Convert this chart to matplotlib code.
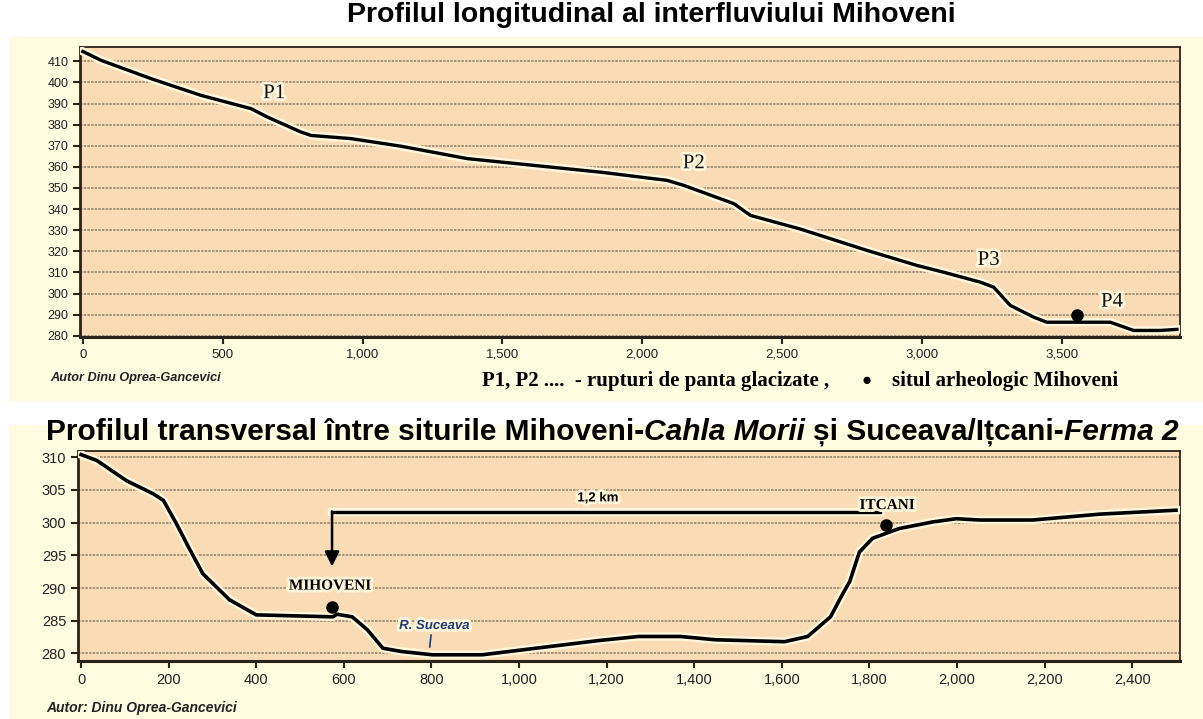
import matplotlib
matplotlib.use("Agg")
import matplotlib.pyplot as plt
import matplotlib.patheffects as pe
from matplotlib.patches import Rectangle

# ---- longitudinal profile (top) ----
long_x = [0, 65, 244, 422, 601, 660, 780, 816, 958, 1137, 1375, 1613, 1851, 2089, 2149,
          2327, 2387, 2566, 2804, 2982, 3077, 3208, 3256, 3315, 3399, 3446, 3673, 3756,
          3851, 3911]
long_y = [414.7, 410.5, 401.8, 393.9, 387.6, 383.6, 376.5, 374.9, 373.4, 369.8, 363.9,
          360.7, 357.5, 353.6, 351.2, 342.6, 337.0, 330.5, 320.4, 313.3, 310.1, 305.4,
          303.0, 294.4, 288.8, 286.4, 286.4, 282.5, 282.5, 283.0]
long_labels = ["P1", "P2", "P3", "P4"]
long_label_x = [684, 2184, 3238, 3679]
long_label_y = [394.7, 361.5, 315.7, 295.9]
long_site = (3554, 289.6)
long_yticks = [280, 290, 300, 310, 320, 330, 340, 350, 360, 370, 380, 390, 400, 410]
long_xticks = [0, 500, 1000, 1500, 2000, 2500, 3000, 3500]
long_xticklabels = ["0", "500", "1,000", "1,500", "2,000", "2,500", "3,000", "3,500"]

# ---- transversal profile (bottom) ----
tr_x = [0, 36, 104, 165, 188, 218, 245, 278, 339, 400, 575, 584, 619, 654, 689, 732,
        802, 916, 1038, 1185, 1273, 1368, 1447, 1606, 1659, 1711, 1738, 1755, 1777,
        1807, 1868, 1944, 1998, 2051, 2173, 2326, 2500]
tr_y = [310.4, 309.5, 306.4, 304.4, 303.4, 299.8, 296.3, 292.2, 288.2, 285.9, 285.6,
        286.0, 285.6, 283.6, 280.8, 280.3, 279.8, 279.8, 280.8, 282.0, 282.6, 282.6,
        282.1, 281.8, 282.6, 285.6, 289.0, 291.0, 295.5, 297.6, 299.1, 300.1, 300.6,
        300.4, 300.4, 301.3, 301.9]
tr_yticks = [280, 285, 290, 295, 300, 305, 310]
tr_xticks = [0, 200, 400, 600, 800, 1000, 1200, 1400, 1600, 1800, 2000, 2200, 2400]
tr_xticklabels = ["0", "200", "400", "600", "800", "1,000", "1,200", "1,400", "1,600",
                  "1,800", "2,000", "2,200", "2,400"]
mihoveni_site = (573, 287.1)
itcani_site = (1838, 299.6)
dist_x = [573, 1824]
dist_y = 301.7
arrow_tip_y = 293.3

CREAM = "#fffbe0"
PEACH = "#f9dcb6"
GRID = "#9a876d"
SANS = ["Liberation Sans", "DejaVu Sans"]
SERIF = ["Liberation Serif", "DejaVu Serif"]
halo = [pe.withStroke(linewidth=6, foreground="#fff6dc")]
text_halo = [pe.withStroke(linewidth=4, foreground="#fff6dc")]

W, H = 1203, 719
fig = plt.figure(figsize=(12.03, 7.19), dpi=100, facecolor="white")
fig.patches.append(Rectangle((9 / W, 1 - 400 / H), 1 - 9 / W, 363 / H,
                             transform=fig.transFigure, color=CREAM, zorder=-5))
fig.patches.append(Rectangle((9 / W, 0), 1 - 9 / W, 1 - 425 / H,
                             transform=fig.transFigure, color=CREAM, zorder=-5))


def style_axes(ax, yticks, xticks, xticklabels, ysize, xsize):
    ax.set_facecolor(PEACH)
    ax.set_yticks(yticks)
    ax.set_xticks(xticks)
    ax.set_xticklabels(xticklabels)
    ax.yaxis.grid(True, color=GRID, linestyle=(0, (1.5, 0.7)), lw=1.2)
    ax.set_axisbelow(True)
    for s in ax.spines.values():
        s.set_color("#2b2218")
        s.set_linewidth(1.3)
    ax.spines["left"].set_linewidth(2)
    ax.spines["bottom"].set_linewidth(2.2)
    ax.tick_params(direction="out", length=5, width=1.5, color="#2b2218")
    for lab in ax.get_yticklabels():
        lab.set_fontfamily(SANS)
        lab.set_fontsize(ysize)
        lab.set_color("#222222")
    for lab in ax.get_xticklabels():
        lab.set_fontfamily(SANS)
        lab.set_fontsize(xsize)
        lab.set_color("#222222")


# top chart
ax1 = fig.add_axes([80 / W, 1 - 337 / H, 1100 / W, 290 / H])
ax1.plot(long_x, long_y, color="black", lw=2.4, path_effects=halo, zorder=3)
ax1.plot(*long_site, "o", color="black", ms=8, zorder=4)
for lab, lx, ly in zip(long_labels, long_label_x, long_label_y):
    ax1.text(lx, ly, lab, fontsize=15, family=SERIF, ha="center", va="center",
             color="#111111", path_effects=text_halo, zorder=5)
ax1.set_xlim(-10, 3922)
ax1.set_ylim(279.4, 416.8)
style_axes(ax1, long_yticks, long_xticks, long_xticklabels, 9, 9.5)

fig.text(651 / W, 1 - 15 / H, "Profilul longitudinal al interfluviului Mihoveni",
         fontsize=20.5, fontweight="bold", family=SANS, ha="center", va="center")
fig.text(50 / W, 1 - 378 / H, "Autor Dinu Oprea-Gancevici", fontsize=9.2, fontstyle="italic",
         fontweight="bold", family=SANS, ha="left", va="center", color="#222222")
fig.text(482 / W, 1 - 381 / H, "P1, P2 ....  - rupturi de panta glacizate ,",
         fontsize=15, fontweight="bold", family=SERIF, ha="left", va="center")
fig.text(867 / W, 1 - 381 / H, "\u25cf", fontsize=12, family=SANS, ha="center", va="center")
fig.text(892 / W, 1 - 381 / H, "situl arheologic Mihoveni",
         fontsize=15, fontweight="bold", family=SERIF, ha="left", va="center")

# bottom chart
ax2 = fig.add_axes([78 / W, 1 - 661 / H, 1102 / W, 210 / H])
ax2.plot(tr_x, tr_y, color="black", lw=2.6, path_effects=halo, zorder=3)
ax2.plot(dist_x, [dist_y, dist_y], color="black", lw=2.4, path_effects=halo, zorder=3)
ax2.annotate("", xy=(dist_x[0], arrow_tip_y), xytext=(dist_x[0], dist_y),
             arrowprops=dict(arrowstyle="-|>", color="black", lw=1.8, mutation_scale=22,
                             shrinkA=0, shrinkB=0), zorder=4)
ax2.plot(*mihoveni_site, "o", color="black", ms=8, zorder=4)
ax2.plot(*itcani_site, "o", color="black", ms=8, zorder=4)
ax2.text(mihoveni_site[0] - 5, 290.3, "MIHOVENI", fontsize=11, fontweight="bold",
         family=SERIF, ha="center", va="center", path_effects=text_halo, zorder=5)
ax2.text(itcani_site[0] + 2, 302.6, "ITCANI", fontsize=11, fontweight="bold",
         family=SERIF, ha="center", va="center", path_effects=text_halo, zorder=5)
ax2.text(1180, 303.7, "1,2 km", fontsize=9.5, fontweight="bold", family=SANS,
         ha="center", va="center", path_effects=text_halo, zorder=5)
ax2.text(807, 284.2, "R. Suceava", fontsize=9.5, fontweight="bold", fontstyle="italic",
         family=SANS, color="#1d3e78", ha="center", va="center",
         path_effects=text_halo, zorder=5)
ax2.plot([796, 799], [281.0, 282.8], color="#1d3e78", lw=1.2, zorder=5)
ax2.set_xlim(-7, 2509)
ax2.set_ylim(278.85, 310.95)
style_axes(ax2, tr_yticks, tr_xticks, tr_xticklabels, 10.5, 10.5)

fig.text(46 / W, 1 - 708 / H, "Autor: Dinu Oprea-Gancevici", fontsize=10, fontstyle="italic",
         fontweight="bold", family=SANS, ha="left", va="center", color="#222222")

# second title with italic parts
runs = [("Profilul transversal între siturile Mihoveni-", "normal", False),
        ("Cahla Morii", "italic", False),
        ("și Suceava/Ițcani-", "normal", True),
        ("Ferma 2", "italic", False)]
renderer = fig.canvas.get_renderer()
size = 21.5
probe1 = fig.text(0, 0, "x x", fontsize=size, fontweight="bold", family=SANS)
probe2 = fig.text(0, 0, "xx", fontsize=size, fontweight="bold", family=SANS)
space = probe1.get_window_extent(renderer).width - probe2.get_window_extent(renderer).width
probe1.remove()
probe2.remove()
pieces = []
total = 0
for txt, st, gap in runs:
    t = fig.text(0, 1 - 440 / H, txt, fontsize=size, fontweight="bold", fontstyle=st,
                 family=SANS, ha="left", va="baseline")
    w = t.get_window_extent(renderer).width
    pieces.append((t, w, gap))
    total += w + (space if gap else 0)
x = 612 - total / 2
for t, w, gap in pieces:
    if gap:
        x += space
    t.set_x(x / W)
    x += w

fig.savefig("out.png", dpi=100, facecolor=fig.get_facecolor())
